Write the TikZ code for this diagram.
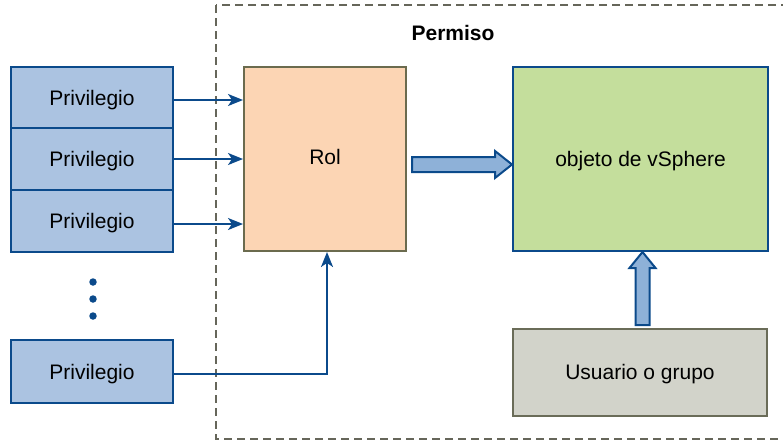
\documentclass[tikz,border=0pt]{standalone}
\usepackage{fontspec}
\setmainfont{Liberation Sans}
\usetikzlibrary{arrows.meta}
\definecolor{privfill}{HTML}{ABC3E1}
\definecolor{darkblue}{HTML}{0B4A8B}
\definecolor{rolfill}{HTML}{FCD5B4}
\definecolor{olive}{HTML}{6B6B4E}
\definecolor{objfill}{HTML}{C4DE9C}
\definecolor{userfill}{HTML}{D2D3CA}
\definecolor{userline}{HTML}{6A6C58}
\definecolor{arrfill}{HTML}{8EB1D8}
\definecolor{dashcol}{HTML}{66665A}
\begin{document}
\begin{tikzpicture}[x=1pt,y=-1pt,
  every node/.style={font=\fontsize{21}{25}\selectfont, inner sep=0pt, text height=15pt},
  box/.style={draw, line width=2pt, minimum width=#1},
  privbox/.style={box=162pt, fill=privfill, draw=darkblue, text depth=-2pt},
  conn/.style={draw=darkblue, line width=2pt, -{Stealth[length=15pt,width=12pt,inset=4pt]}},
  blockarrow/.style={draw=darkblue, fill=arrfill, line width=2pt, line join=miter},
  dot/.style={circle, fill=darkblue, minimum size=7.5pt, text height=, text depth=}
]
\useasboundingbox (0,0) rectangle (783,442);
% dashed frame
\draw[dashcol, line width=2pt, dash pattern=on 8pt off 5pt] (216,5) rectangle (790,439);
\node[font=\fontsize{21}{25}\selectfont\bfseries, text depth=1pt] (permiso) at (453,33) {Permiso};
% privilege boxes
\node[privbox, minimum height=61pt] (p1) at (92,97.5) {Privilegio};
\node[privbox, minimum height=62pt] (p2) at (92,159) {Privilegio};
\node[privbox, minimum height=62pt] (p3) at (92,221) {Privilegio};
\node[privbox, minimum height=63pt] (p4) at (92,371.5) {Privilegio};
\node[dot] (d1) at (93,282) {};
\node[dot] (d2) at (93,299) {};
\node[dot] (d3) at (93,316) {};
% main boxes
\node[box=162pt, minimum height=184pt, fill=rolfill, draw=olive, text depth=5pt] (rol) at (325,159) {Rol};
\node[box=255pt, minimum height=184pt, fill=objfill, draw=darkblue, text depth=-5pt] (obj) at (640.5,159) {objeto de vSphere};
\node[box=254pt, minimum height=87pt, fill=userfill, draw=userline, text depth=2pt] (user) at (640,372.5) {Usuario o grupo};
% connectors
\coordinate (s1) at ([yshift=-2.5pt]p1.east);
\coordinate (s3) at ([yshift=-3pt]p3.east);
\coordinate (s4) at ([yshift=-2.5pt]p4.east);
\coordinate (r4) at ([xshift=2pt]rol.south);
\draw[conn] (s1) -- (rol.west |- s1);
\draw[conn] (p2.east) -- (rol.west |- p2.east);
\draw[conn] (s3) -- (rol.west |- s3);
\draw[conn] (s4) -| (r4);
% block arrows
\coordinate (h0) at ([xshift=5pt]rol.east);
\draw[blockarrow] (h0) ++(0,-2) -- ++(83,0) -- ++(0,-6) -- ++(17,13.5) -- ++(-17,13.5) -- ++(0,-6) -- ++(-83,0) -- cycle;
\coordinate (v0) at ([xshift=2.5pt]user.north);
\draw[blockarrow] (v0) ++(-7,-3) -- ++(0,-57) -- ++(-6,0) -- ++(13,-16) -- ++(13,16) -- ++(-6,0) -- ++(0,57) -- cycle;
\end{tikzpicture}
\end{document}
